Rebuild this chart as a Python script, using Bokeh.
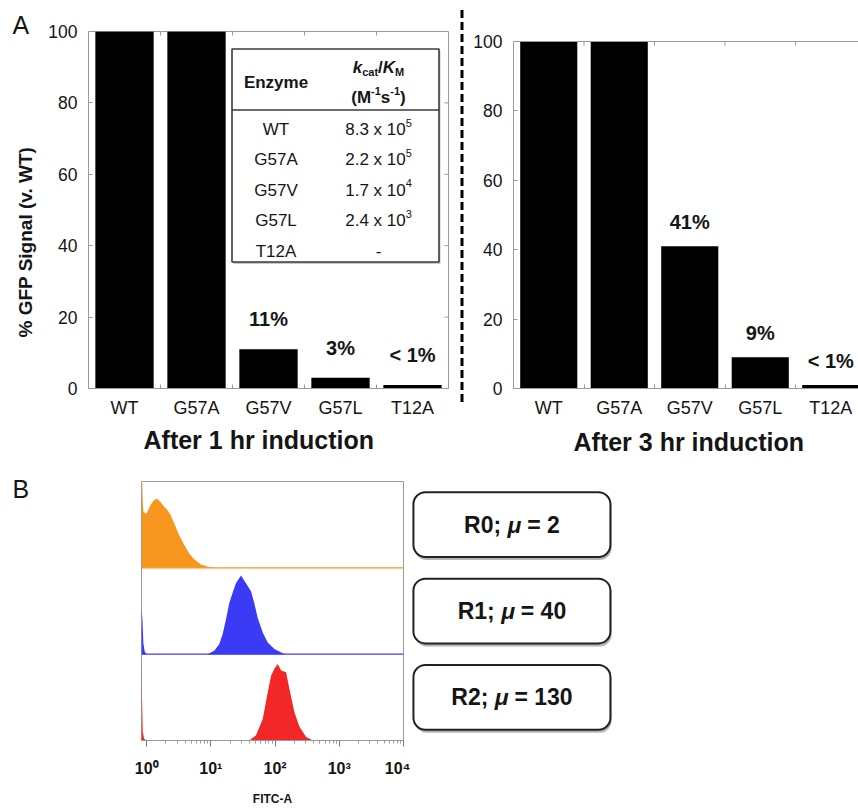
from bokeh.plotting import figure
from bokeh.layouts import row, column
from bokeh.models import FixedTicker, Range1d, Span, Title, Div
from bokeh.embed import file_html
from bokeh.resources import INLINE
from bokeh.core.properties import value

FONT = "Liberation Sans"
GRAY = "#9a9a9a"
INK = "#151515"

# ---------------- data ----------------
enzymes = ["WT", "G57A", "G57V", "G57L", "T12A"]
gfp_1hr = [100, 100, 11, 3, 1]
gfp_3hr = [100, 100, 41, 9, 1]
pct_1hr = ["", "", "11%", "3%", "< 1%"]
pct_3hr = ["", "", "41%", "9%", "< 1%"]
y_ticks = [0, 20, 40, 60, 80, 100]

kcat_mantissa = ["8.3", "2.2", "1.7", "2.4", "-"]
kcat_exponent = ["5", "5", "4", "3", ""]

flow_decades = [0, 1, 2, 3, 4]
flow_rounds = ["R0", "R1", "R2"]
flow_means = ["2", "40", "130"]
flow_colors = ["#F7961F", "#3B3BF6", "#F22828"]

# histogram outlines: log10(FITC-A) and height as fraction of the lane
r0_log = [-0.08, -0.068, -0.06, -0.052, -0.04, 0.0, 0.0625, 0.114, 0.167, 0.219, 0.27,
          0.323, 0.375, 0.427, 0.505, 0.583, 0.661, 0.739, 0.844, 0.973, 1.08]
r0_h = [0.98, 0.98, 0.76, 0.66, 0.64, 0.63, 0.73, 0.785, 0.80, 0.76, 0.71,
        0.67, 0.61, 0.52, 0.38, 0.27, 0.17, 0.10, 0.04, 0.01, 0.0]
r1_log = [-0.08, -0.065, -0.05, -0.03, 0.0, 0.95, 1.0, 1.052, 1.13, 1.183, 1.234, 1.286,
          1.339, 1.39, 1.469, 1.547, 1.625, 1.677, 1.73, 1.808, 1.886, 1.989, 2.12, 2.17]
r1_h = [0.54, 0.40, 0.12, 0.03, 0.0, 0.0, 0.02, 0.04, 0.115, 0.23, 0.40, 0.59,
        0.71, 0.82, 0.91, 0.82, 0.73, 0.59, 0.42, 0.25, 0.135, 0.06, 0.01, 0.0]
r2_log = [-0.08, -0.072, -0.06, -0.04, 0.0, 1.55, 1.598, 1.703, 1.808, 1.886, 1.9375, 1.989,
          2.042, 2.094, 2.172, 2.223, 2.30, 2.38, 2.484, 2.589]
r2_h = [0.96, 0.5, 0.1, 0.02, 0.0, 0.0, 0.0, 0.06, 0.25, 0.56, 0.75, 0.83,
        0.885, 0.81, 0.79, 0.60, 0.33, 0.16, 0.04, 0.0]

# ---------------- helpers ----------------
REG_W = {".": .278, " ": .278, "x": .5, "-": .333}
BOLD_W = {" ": .278, ";": .333, "=": .584, "R": .722, "\u03bc": .576, "t": .333,
          "/": .278, "K": .722, "M": .833, "(": .333, ")": .333, "-": .333}


def text_width(s, size, style):
    table = BOLD_W if "bold" in style else REG_W
    return sum(table.get(ch, 0.556) for ch in s) * size


def draw_pieces(p, x, y, pieces, align="center", dy=0):
    widths = [text_width(t, s, st) for t, s, st, _ in pieces]
    total = sum(widths)
    off = {"left": 0, "center": -total / 2, "right": -total}[align]
    for (t, s, st, sdy), w in zip(pieces, widths):
        lead = len(t) - len(t.lstrip(" "))
        shown = t.strip(" ")
        p.text(x=[x], y=[y], text=[shown], x_offset=off + text_width(" " * lead, s, st),
               y_offset=sdy + dy, text_font=value(FONT), text_font_size=f"{s}px",
               text_font_style=st, text_align="left", text_baseline="alphabetic",
               text_color=INK)
        off += w


def cat_ticker():
    return FixedTicker(ticks=list(range(len(enzymes))),
                       minor_ticks=[i - 0.5 for i in range(len(enzymes) + 1)])


def style_common(p):
    p.grid.visible = False
    p.background_fill_color = "white"
    p.border_fill_color = "white"


FRAME_TOP, FRAME_BOTTOM = 31, 388   # shared by both bar panels (row aligns frames)
ROW1_H = 470


def bar_panel(values, pct, width, x_end, y_end, left_border, right_border, bar_w, pct_dy,
              title, title_offset, title_standoff, boxed=True):
    p = figure(width=width, height=ROW1_H, x_range=Range1d(-0.5, x_end),
               y_range=Range1d(0, y_end),
               min_border_left=left_border, min_border_right=right_border,
               min_border_top=FRAME_TOP, min_border_bottom=ROW1_H - FRAME_BOTTOM,
               output_backend="svg", toolbar_location=None)
    style_common(p)
    px_pct = (FRAME_BOTTOM - FRAME_TOP) / y_end
    px_cat = (width - left_border - right_border) / (x_end + 0.5)
    xs = list(range(len(enzymes)))
    p.vbar(x=xs, top=values, width=bar_w, bottom=0, fill_color="black", line_color=None)
    keep = [i for i, t in enumerate(pct) if t]
    p.text(x=[xs[i] for i in keep], y=[values[i] for i in keep], text=[pct[i] for i in keep],
           y_offset=pct_dy, text_align="center", text_baseline="alphabetic",
           text_font=value(FONT), text_font_size="20px", text_font_style="bold",
           text_color=INK)

    xa = p.xaxis[0]
    xa.ticker = cat_ticker()
    xa.major_label_overrides = {i: n for i, n in enumerate(enzymes)}
    xa.major_tick_in = 0
    xa.major_tick_out = 0
    xa.minor_tick_in = 4
    xa.minor_tick_out = 0
    xa.axis_line_color = GRAY
    xa.minor_tick_line_color = GRAY
    xa.major_label_text_font = FONT
    xa.major_label_text_font_size = "18px"
    xa.major_label_text_color = INK
    xa.major_label_standoff = 9

    ya = p.yaxis[0]
    ya.ticker = FixedTicker(ticks=y_ticks)
    ya.bounds = (0, 100)
    ya.major_tick_in = 4
    ya.major_tick_out = 0
    ya.axis_line_color = GRAY
    ya.major_tick_line_color = GRAY
    ya.major_label_text_font = FONT
    ya.major_label_text_font_size = "17.5px"
    ya.major_label_text_color = INK
    ya.major_label_standoff = 11

    # mirrored tick marks on the top edge (and right edge when boxed)
    bounds = [i + 0.5 for i in range(len(enzymes) - 1)]
    p.segment(x0=bounds, y0=[100] * len(bounds), x1=bounds,
              y1=[100 - 4 / px_pct] * len(bounds), line_color=GRAY, line_width=1)
    if boxed:
        p.outline_line_color = GRAY
        p.segment(x0=[x_end] * len(y_ticks), y0=y_ticks, x1=[x_end - 4 / px_cat] * len(y_ticks),
                  y1=y_ticks, line_color=GRAY, line_width=1)
    else:
        p.outline_line_color = None
        p.add_layout(Span(location=100, dimension="width", line_color=GRAY, line_width=1))

    t = Title(text=title, align="left", offset=title_offset, standoff=title_standoff,
              text_font=FONT, text_font_size="25px", text_font_style="bold", text_color=INK)
    p.add_layout(t, "below")
    return p, px_cat, px_pct


# ---------------- panel A, 1 hr ----------------
A1_LEFT = 88
pA1, PX_CAT, PX_PCT = bar_panel(gfp_1hr, pct_1hr, 454, 4.5, 100, A1_LEFT, 6, 0.81, -30,
                                "After 1 hr induction", 55, 6)
pA1.add_layout(Title(text="% GFP Signal (v. WT)", align="left", offset=51, standoff=20,
                     text_font=FONT, text_font_size="19px", text_font_style="bold",
                     text_color=INK), "left")
pA1.add_layout(Title(text="A", align="left", offset=12 - A1_LEFT, standoff=-14,
                     text_font=FONT, text_font_size="25px", text_font_style="normal",
                     text_color=INK), "above")


# inset table (positions in page pixels of panel A1)
def ax(px):
    return (px - A1_LEFT) / PX_CAT - 0.5


def ay(py):
    return (FRAME_BOTTOM - py) / PX_PCT


pA1.quad(left=[ax(233)], right=[ax(440)], top=[ay(50)], bottom=[ay(263.5)],
         fill_color="#c8c8c8", line_color=None)
pA1.quad(left=[ax(231.5)], right=[ax(438.5)], top=[ay(48.5)], bottom=[ay(261.5)],
         fill_color="white", line_color="#3a3a3a", line_width=1.6)
pA1.segment(x0=[ax(231.5)], y0=[ay(109.5)], x1=[ax(438.5)], y1=[ay(109.5)],
            line_color="#3a3a3a", line_width=1.4)

COL1, COL2 = ax(275.5), ax(378)
pA1.text(x=[COL1], y=[ay(82)], text=["Enzyme"], text_align="center",
         text_baseline="alphabetic", text_font=value(FONT), text_font_size="17px",
         text_font_style="bold", text_color=INK)
draw_pieces(pA1, COL2, ay(67), [("k", 17, "bold italic", 0), ("cat", 11, "bold", 4),
                                ("/", 17, "bold", 0), ("K", 17, "bold italic", 0),
                                ("M", 11, "bold", 4)])
draw_pieces(pA1, COL2, ay(97), [("(M", 17, "bold", 0), ("-1", 11, "bold", -7),
                                ("s", 17, "bold", 0), ("-1", 11, "bold", -7),
                                (")", 17, "bold", 0)])
ROW0, ROW_STEP = 129.0, 30.4
for i, (enz, man, exp) in enumerate(zip(enzymes, kcat_mantissa, kcat_exponent)):
    yb = ay(ROW0 + i * ROW_STEP)
    pA1.text(x=[COL1], y=[yb], text=[enz], text_align="center", text_baseline="alphabetic",
             text_font=value(FONT), text_font_size="17px", text_color=INK)
    if exp:
        draw_pieces(pA1, COL2, yb, [(man + " x 10", 17, "normal", 0), (exp, 11, "normal", -7)])
    else:
        draw_pieces(pA1, COL2, yb, [(man, 17, "normal", 0)])

# ---------------- divider (dashed rule between the two bar panels) ----------------
divider = Div(text=('<svg width="16" height="470" style="display:block">'
                    '<line x1="8" y1="10" x2="8" y2="403" stroke="black" stroke-width="3" '
                    'stroke-dasharray="8 4"/></svg>'),
              width=16, height=ROW1_H, margin=(0, 0, 0, 0))

# ---------------- panel A, 3 hr ----------------
A2_W, A2_LEFT = 388, 43
A2_PX_CAT = 70.5
A2_PX_PCT = (FRAME_BOTTOM - 41) / 100.0
pA2, _, _ = bar_panel(gfp_3hr, pct_3hr, A2_W, -0.5 + (A2_W - A2_LEFT) / A2_PX_CAT,
                      (FRAME_BOTTOM - FRAME_TOP) / A2_PX_PCT, A2_LEFT, 0, 0.81, -24,
                      "After 3 hr induction", 60, 11, boxed=False)

# ---------------- panel B, flow histograms ----------------
ROW2_H = 338
B1_LEFT = 141
pB1 = figure(width=410, height=ROW2_H, x_axis_type="log",
             x_range=Range1d(10 ** -0.08, 10 ** 4), y_range=Range1d(0, 3),
             min_border_left=B1_LEFT, min_border_right=7, min_border_top=11,
             min_border_bottom=66, y_axis_location=None,
             output_backend="svg", toolbar_location=None)
style_common(pB1)
pB1.outline_line_color = GRAY
n_lanes = len(flow_rounds)
for k, (lg, hh, col) in enumerate(zip([r0_log, r1_log, r2_log], [r0_h, r1_h, r2_h], flow_colors)):
    base = n_lanes - 1 - k
    xs = [10 ** v for v in lg]
    pB1.varea(x=xs, y1=[base] * len(xs), y2=[base + h for h in hh], fill_color=col)
    if base > 0:
        pB1.add_layout(Span(location=base, dimension="width", line_color=col, line_width=1.2))

sup = {0: "\u2070", 1: "\u00b9", 2: "\u00b2", 3: "\u00b3", 4: "\u2074"}
xb = pB1.xaxis[0]
xb.ticker = FixedTicker(ticks=[10 ** d for d in flow_decades],
                        minor_ticks=[m * 10 ** d for d in flow_decades[:-1] for m in range(2, 10)])
xb.major_label_overrides = {10 ** d: "10" + sup[d] for d in flow_decades}
xb.major_tick_in = 0
xb.major_tick_out = 6
xb.minor_tick_in = 0
xb.minor_tick_out = 3
xb.axis_line_color = GRAY
xb.major_tick_line_color = "#777777"
xb.minor_tick_line_color = "#999999"
xb.major_label_text_font = FONT
xb.major_label_text_font_size = "16px"
xb.major_label_text_font_style = "bold"
xb.major_label_text_color = INK
xb.major_label_standoff = 13
xb.axis_label = "FITC-A"
xb.axis_label_text_font = FONT
xb.axis_label_text_font_size = "12px"
xb.axis_label_text_font_style = "bold"
xb.axis_label_text_color = INK
xb.axis_label_standoff = 12

pB1.add_layout(Title(text="B", align="left", offset=12 - B1_LEFT, standoff=-42,
                     text_font=FONT, text_font_size="25px", text_font_style="normal",
                     text_color=INK), "above")

# ---------------- panel B, labels ----------------
pB2 = figure(width=448, height=ROW2_H, x_range=Range1d(0, 1), y_range=Range1d(0, 3),
             min_border_left=0, min_border_right=238, min_border_top=11, min_border_bottom=66,
             x_axis_location=None, y_axis_location=None,
             output_backend="svg", toolbar_location=None)
style_common(pB2)
pB2.outline_line_color = None
BOX_L, BOX_R, BOX_HALF = 0.014, 0.952, 0.375
for i, (rnd, mu) in enumerate(zip(flow_rounds, flow_means)):
    c = n_lanes - 0.5 - i
    pB2.quad(left=[BOX_L + 0.006], right=[BOX_R + 0.006], top=[c + BOX_HALF - 0.03],
             bottom=[c - BOX_HALF - 0.035], fill_color="#b5b5b5", line_color=None,
             border_radius=12)
    pB2.quad(left=[BOX_L], right=[BOX_R], top=[c + BOX_HALF], bottom=[c - BOX_HALF],
             fill_color="white", line_color="#222222", line_width=2, border_radius=12)
    draw_pieces(pB2, (BOX_L + BOX_R) / 2, c,
                [(rnd + "; ", 23, "bold", 0), ("\u03bc", 23, "bold italic", 0),
                 (" = " + mu, 23, "bold", 0)], dy=0)

layout = column(row(pA1, divider, pA2), row(pB1, pB2))
open("out.html", "w").write(file_html(layout, INLINE))
